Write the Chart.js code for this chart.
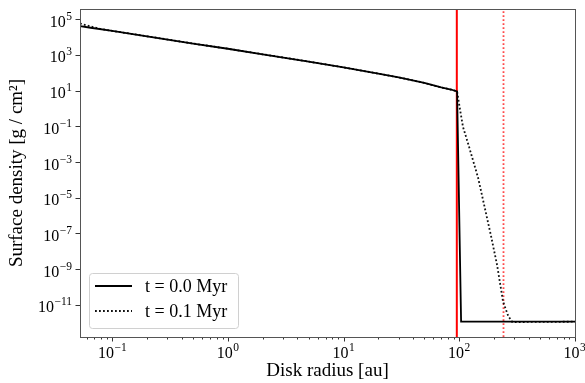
<!DOCTYPE html>
<html>
<head>
<meta charset="utf-8">
<script src="https://cdn.jsdelivr.net/npm/chart.js@4/dist/chart.umd.min.js"></script>
<style>
  body { margin: 0; background: #fff; }
</style>
</head>
<body>
<canvas id="myChart" width="585" height="383"></canvas>
<script>
// radius [au] and surface density [g/cm^2]
const solidR = [0.0526, 0.065, 0.1, 0.2, 0.5, 1, 2, 5, 10, 20, 30, 50, 70, 85, 96, 104, 1005];
const solidSigma = [4.1e4, 3.3e4, 2.2e4, 1.1e4, 4.3e3, 2.2e3, 1.08e3, 4.2e2, 2.0e2, 89, 55, 27, 15, 11.5, 9.1, 1.15e-12, 1.15e-12];

const dotR = [0.0526, 0.065, 0.08, 0.1, 0.2, 0.5, 1, 2, 5, 10, 20, 30, 50, 70, 85, 96, 102, 108, 120, 146, 161, 189, 213, 240, 266, 288, 1005];
const dotSigma = [5.7e4, 3.9e4, 2.8e4, 2.2e4, 1.1e4, 4.3e3, 2.2e3, 1.08e3, 4.2e2, 2.0e2, 89, 55, 27, 15, 11.5, 9.1, 0.8, 0.093, 0.01, 1.3e-4, 7.5e-6, 7e-8, 1.7e-9, 1.5e-11, 2.4e-12, 1.1e-12, 1.15e-12];

const seriesLabels = ["t = 0.0 Myr", "t = 0.1 Myr"];

// vertical markers (au)
const cutRadius = 95.5;
const dotRadius = 242;

const xRange = [0.0526, 1005];
const yRange = [1.6e-13, 3.7e5];

const xMajor = [0.1, 1, 10, 100, 1000];
const xMajorExp = ["\u22121", "0", "1", "2", "3"];
const yMajor = [1e5, 1e3, 1e1, 1e-1, 1e-3, 1e-5, 1e-7, 1e-9, 1e-11];
const yMajorExp = ["5", "3", "1", "\u22121", "\u22123", "\u22125", "\u22127", "\u22129", "\u221211"];

const serif = "'Liberation Serif', 'DejaVu Serif', serif";

const toPoints = (xs, ys) => xs.map((v, i) => ({ x: v, y: ys[i] }));
const vline = (r) => [{ x: r, y: yRange[0] }, { x: r, y: yRange[1] }];

// "10" with a raised exponent
function drawPow(ctx, exp, px, baseY, align) {
  ctx.font = "16px " + serif;
  const wb = ctx.measureText("10").width;
  ctx.font = "11.5px " + serif;
  const we = ctx.measureText(exp).width;
  const total = wb + we + 0.5;
  let x0 = align === "right" ? px - total : px - total / 2;
  ctx.textAlign = "left";
  ctx.textBaseline = "alphabetic";
  ctx.font = "16px " + serif;
  ctx.fillText("10", x0, baseY);
  ctx.font = "11.5px " + serif;
  ctx.fillText(exp, x0 + wb + 0.5, baseY - 7);
}

const axesDeco = {
  id: "axesDeco",
  afterDatasetsDraw(chart) {
    const { ctx, chartArea: a, scales: { x, y } } = chart;
    ctx.save();
    ctx.fillStyle = "#000";
    ctx.strokeStyle = "#333";
    ctx.lineWidth = 1;

    // x ticks, major and minor
    ctx.beginPath();
    for (let d = -2; d <= 3; d++) {
      for (let k = 1; k <= 9; k++) {
        const v = k * Math.pow(10, d);
        if (v < xRange[0] || v > xRange[1] * 1.001) continue;
        const px = Math.round(x.getPixelForValue(v)) + 0.5;
        ctx.moveTo(px, a.bottom);
        ctx.lineTo(px, a.bottom + (k === 1 ? 4.5 : 2.5));
      }
    }
    // y ticks
    yMajor.forEach(v => {
      const py = Math.round(y.getPixelForValue(v)) + 0.5;
      ctx.moveTo(a.left, py);
      ctx.lineTo(a.left - 4.5, py);
    });
    ctx.stroke();

    // frame
    ctx.strokeStyle = "#555";
    ctx.strokeRect(Math.round(a.left) + 0.5, Math.round(a.top) + 0.5,
      Math.round(a.right - a.left), Math.round(a.bottom - a.top));

    // tick labels
    xMajor.forEach((v, i) => drawPow(ctx, xMajorExp[i], x.getPixelForValue(v), a.bottom + 21, "center"));
    yMajor.forEach((v, i) => drawPow(ctx, yMajorExp[i], a.left - 8, y.getPixelForValue(v) + 7.5, "right"));

    // legend box
    const lx = a.left + 9, ly = a.bottom - 64, lw = 149, lh = 55;
    ctx.beginPath();
    ctx.roundRect(lx + 0.5, ly + 0.5, lw, lh, 3);
    ctx.fillStyle = "rgba(255,255,255,0.8)";
    ctx.fill();
    ctx.strokeStyle = "#d0d0d0";
    ctx.stroke();
    [0, 1].forEach(i => {
      const ds = chart.data.datasets[i];
      const yy = ly + 13 + i * 25;
      ctx.beginPath();
      ctx.setLineDash(ds.borderDash || []);
      ctx.strokeStyle = ds.borderColor;
      ctx.lineWidth = ds.borderWidth;
      ctx.moveTo(lx + 6, yy);
      ctx.lineTo(lx + 43, yy);
      ctx.stroke();
      ctx.setLineDash([]);
      ctx.fillStyle = "#000";
      ctx.font = "18px " + serif;
      ctx.textAlign = "left";
      ctx.textBaseline = "middle";
      ctx.fillText(ds.label, lx + 56, yy + 1);
    });
    ctx.restore();
  }
};

const ctx = document.getElementById("myChart").getContext("2d");

new Chart(ctx, {
  type: "line",
  data: {
    datasets: [
      {
        label: seriesLabels[0],
        data: toPoints(solidR, solidSigma),
        borderColor: "#000",
        borderWidth: 1.8,
        pointRadius: 0,
        tension: 0,
      },
      {
        label: seriesLabels[1],
        data: toPoints(dotR, dotSigma),
        borderColor: "#111",
        borderWidth: 1.8,
        borderDash: [1.8, 2.2],
        pointRadius: 0,
        tension: 0,
      },
      {
        data: vline(cutRadius),
        borderColor: "#ff0000",
        borderWidth: 2,
        pointRadius: 0,
      },
      {
        data: vline(dotRadius),
        borderColor: "rgba(255,40,40,0.85)",
        borderWidth: 1.8,
        borderDash: [1.8, 2.2],
        pointRadius: 0,
      },
    ],
  },
  options: {
    responsive: false,
    animation: false,
    devicePixelRatio: 1,
    layout: { padding: { top: 9, right: 10, left: 0, bottom: 0 } },
    plugins: {
      legend: { display: false },
      tooltip: { enabled: false },
    },
    scales: {
      x: {
        type: "logarithmic",
        min: xRange[0],
        max: xRange[1],
        grid: { display: false },
        border: { display: false },
        ticks: { display: false },
        title: {
          display: true,
          text: "Disk radius [au]",
          color: "#000",
          font: { family: serif, size: 19 },
          padding: { bottom: 1 },
        },
        afterFit: (s) => { s.height = 46; },
      },
      y: {
        type: "logarithmic",
        min: yRange[0],
        max: yRange[1],
        grid: { display: false },
        border: { display: false },
        ticks: { display: false },
        title: {
          display: true,
          text: "Surface density [g / cm\u00b2]",
          color: "#000",
          font: { family: serif, size: 19 },
          padding: { top: 6 },
        },
        afterFit: (s) => { s.width = 80; },
      },
    },
  },
  plugins: [axesDeco],
});
</script>
</body>
</html>
